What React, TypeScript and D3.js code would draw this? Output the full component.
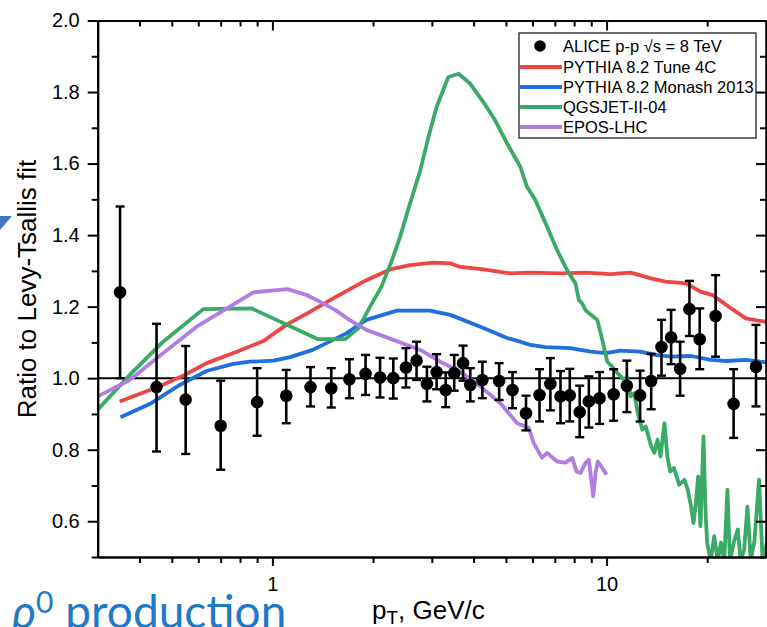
import React, { useEffect, useRef } from 'react';
import * as d3 from 'd3';

// ---------- data ----------
const ALICE_PT = [0.35, 0.45, 0.55, 0.70, 0.90, 1.10, 1.30, 1.50, 1.70, 1.90, 2.10, 2.30, 2.51, 2.70, 2.90, 3.10, 3.30, 3.50, 3.72, 3.91, 4.25, 4.77, 5.23, 5.74, 6.30, 6.79, 7.28, 7.76, 8.31, 8.85, 9.53, 10.5, 11.5, 12.6, 13.6, 14.6, 15.6, 16.6, 17.7, 19.0, 21.2, 24.0, 28.0];
const ALICE_RATIO = [1.24, 0.975, 0.94, 0.867, 0.933, 0.951, 0.975, 0.972, 0.997, 1.012, 1.002, 1.0, 1.030, 1.049, 0.984, 1.017, 0.967, 1.014, 1.042, 0.981, 0.995, 0.992, 0.967, 0.902, 0.953, 0.984, 0.949, 0.952, 0.905, 0.935, 0.944, 0.955, 0.979, 0.952, 0.992, 1.087, 1.114, 1.026, 1.193, 1.109, 1.174, 0.928, 1.032];
const ALICE_HI = [1.48, 1.152, 1.09, 0.993, 1.028, 1.023, 1.031, 1.028, 1.053, 1.065, 1.057, 1.055, 1.084, 1.102, 1.032, 1.067, 1.016, 1.065, 1.091, 1.028, 1.046, 1.042, 1.017, 0.951, 1.025, 1.056, 1.02, 1.026, 0.979, 1.005, 1.017, 1.025, 1.049, 1.021, 1.068, 1.163, 1.191, 1.102, 1.272, 1.195, 1.288, 1.025, 1.149];
const ALICE_LO = [1.0, 0.795, 0.788, 0.744, 0.839, 0.874, 0.921, 0.918, 0.944, 0.953, 0.946, 0.943, 0.974, 0.995, 0.935, 0.969, 0.919, 0.965, 0.993, 0.935, 0.944, 0.939, 0.916, 0.854, 0.879, 0.910, 0.874, 0.879, 0.835, 0.862, 0.872, 0.881, 0.905, 0.879, 0.913, 1.007, 1.039, 0.951, 1.118, 1.025, 1.06, 0.833, 0.921];

const PYTHIA_4C: [number, number][] = [[0.349, 0.935], [0.45, 0.974], [0.547, 1.009], [0.635, 1.042], [0.782, 1.074], [0.94, 1.104], [1.10, 1.149], [1.27, 1.181], [1.52, 1.223], [1.91, 1.274], [2.25, 1.304], [2.58, 1.316], [3.03, 1.323], [3.41, 1.321], [3.65, 1.311], [4.28, 1.304], [5.15, 1.293], [5.91, 1.295], [7.28, 1.293], [8.65, 1.295], [10.3, 1.291], [11.8, 1.295], [13.6, 1.279], [15.0, 1.270], [17.3, 1.265], [19.1, 1.242], [20.8, 1.232], [23.6, 1.195], [26.1, 1.167], [28.4, 1.161], [30.2, 1.158]];
const PYTHIA_MONASH: [number, number][] = [[0.351, 0.891], [0.434, 0.930], [0.528, 0.981], [0.635, 1.020], [0.764, 1.040], [0.857, 1.046], [1.007, 1.049], [1.13, 1.059], [1.32, 1.079], [1.67, 1.126], [1.91, 1.163], [2.36, 1.189], [2.96, 1.189], [3.41, 1.177], [4.19, 1.144], [5.04, 1.112], [5.52, 1.102], [5.91, 1.093], [6.56, 1.087], [7.80, 1.084], [8.96, 1.074], [9.94, 1.070], [11.0, 1.077], [12.6, 1.074], [14.0, 1.065], [15.6, 1.060], [17.9, 1.062], [20.5, 1.051], [22.8, 1.048], [26.1, 1.051], [30.2, 1.044]];
const QGSJET: [number, number][] = [[0.3, 0.912], [0.374, 1.009], [0.471, 1.102], [0.621, 1.193], [0.867, 1.195], [1.37, 1.109], [1.65, 1.109], [1.81, 1.140], [1.96, 1.200], [2.12, 1.256], [2.28, 1.330], [2.41, 1.395], [2.58, 1.488], [2.77, 1.581], [2.93, 1.674], [3.10, 1.758], [3.36, 1.842], [3.61, 1.851], [3.91, 1.823], [4.28, 1.772], [4.64, 1.721], [5.04, 1.656], [5.52, 1.591], [5.78, 1.535], [6.12, 1.498], [6.64, 1.423], [7.11, 1.358], [7.62, 1.302], [8.07, 1.265], [8.26, 1.219], [8.45, 1.209], [8.65, 1.19], [9.38, 1.163], [9.71, 1.107], [10.05, 1.046], [10.4, 1.032], [10.9, 1.009], [11.3, 0.995], [11.5, 1.004], [11.8, 0.949], [12.1, 0.958], [12.4, 0.902], [12.8, 0.856], [13.1, 0.865], [13.6, 0.809], [13.9, 0.791], [14.2, 0.828], [14.5, 0.781], [14.9, 0.874], [15.2, 0.781], [15.5, 0.739], [15.9, 0.749], [16.5, 0.702], [17.1, 0.716], [17.5, 0.688], [17.9, 0.641], [18.2, 0.595], [18.5, 0.651], [18.8, 0.725], [19.1, 0.586], [19.5, 0.837], [19.8, 0.614], [20.0, 0.540], [20.5, 0.49], [21.0, 0.558], [21.5, 0.49], [22.0, 0.54], [22.5, 0.49], [23.0, 0.688], [23.4, 0.49], [24.1, 0.545], [24.7, 0.577], [25.2, 0.49], [25.8, 0.52], [26.4, 0.641], [27.0, 0.49], [27.7, 0.545], [28.6, 0.716], [29.3, 0.49], [30.2, 0.54]];
const EPOS: [number, number][] = [[0.3, 0.949], [0.374, 0.995], [0.471, 1.070], [0.593, 1.144], [0.746, 1.200], [0.877, 1.240], [1.11, 1.249], [1.27, 1.232], [1.36, 1.218], [1.54, 1.191], [1.70, 1.163], [1.91, 1.135], [2.30, 1.107], [2.77, 1.079], [3.18, 1.046], [3.65, 1.018], [4.19, 0.977], [4.81, 0.930], [5.40, 0.874], [5.85, 0.861], [6.05, 0.819], [6.41, 0.777], [6.64, 0.791], [7.11, 0.767], [7.54, 0.764], [7.89, 0.777], [8.13, 0.739], [8.36, 0.735], [8.65, 0.763], [8.85, 0.772], [9.12, 0.670], [9.27, 0.735], [9.42, 0.767], [9.64, 0.753], [10.0, 0.730]];

const SERIES_NAMES = ['PYTHIA 8.2 Tune 4C', 'PYTHIA 8.2 Monash 2013', 'QGSJET-II-04', 'EPOS-LHC'];
const SERIES_DATA = [PYTHIA_4C, PYTHIA_MONASH, QGSJET, EPOS];
const SERIES_COLORS = ['#f04545', '#1f6fe0', '#3aaa68', '#b07ee0'];
const DATA_LABEL = 'ALICE p-p \u221As = 8 TeV';

const X_DOMAIN = [0.3, 30];
const Y_DOMAIN = [0.5, 2.0];
const X_MAJOR_TICKS = [1, 10];
const X_MINOR_TICKS = [0.4, 0.5, 0.6, 0.7, 0.8, 0.9, 2, 3, 4, 5, 6, 7, 8, 9, 20];
const Y_MAJOR_TICKS = [0.6, 0.8, 1.0, 1.2, 1.4, 1.6, 1.8, 2.0];
const Y_MINOR_TICKS = [0.5, 0.7, 0.9, 1.1, 1.3, 1.5, 1.7, 1.9];

const W = 767;
const H = 627;
const PLOT = { left: 97.7, top: 20.5, right: 766, bottom: 557 };
const FONT = '"Liberation Sans", Arial, Helvetica, sans-serif';

export default function App() {
  const ref = useRef<SVGSVGElement>(null);

  useEffect(() => {
    const svg = d3.select(ref.current);
    svg.selectAll('*').remove();

    const x = d3.scaleLog().domain(X_DOMAIN).range([PLOT.left, PLOT.right]);
    const y = d3.scaleLinear().domain(Y_DOMAIN).range([PLOT.bottom, PLOT.top]);

    svg.append('rect').attr('width', W).attr('height', H).attr('fill', '#fff');

    svg.append('defs').append('clipPath').attr('id', 'plotclip')
      .append('rect')
      .attr('x', PLOT.left).attr('y', PLOT.top)
      .attr('width', PLOT.right - PLOT.left).attr('height', PLOT.bottom - PLOT.top);

    // reference line at 1
    svg.append('line')
      .attr('x1', PLOT.left).attr('x2', PLOT.right)
      .attr('y1', y(1)).attr('y2', y(1))
      .attr('stroke', '#000').attr('stroke-width', 2);

    // model curves
    const line = d3.line<[number, number]>().x(d => x(d[0])).y(d => y(d[1]));
    const curves = svg.append('g').attr('clip-path', 'url(#plotclip)');
    SERIES_DATA.forEach((data, i) => {
      curves.append('path')
        .attr('d', line(data) as string)
        .attr('fill', 'none')
        .attr('stroke', SERIES_COLORS[i])
        .attr('stroke-width', 3.8)
        .attr('stroke-linejoin', 'round')
        .attr('stroke-linecap', 'butt');
    });

    // ALICE data points with error bars
    const pts = svg.append('g');
    ALICE_PT.forEach((pt, i) => {
      const cx = x(pt);
      const g = pts.append('g');
      g.append('line').attr('x1', cx).attr('x2', cx)
        .attr('y1', y(ALICE_LO[i])).attr('y2', y(ALICE_HI[i]))
        .attr('stroke', '#000').attr('stroke-width', 2.6);
      [ALICE_LO[i], ALICE_HI[i]].forEach(v => {
        g.append('line').attr('x1', cx - 4.5).attr('x2', cx + 4.5)
          .attr('y1', y(v)).attr('y2', y(v))
          .attr('stroke', '#000').attr('stroke-width', 2.4);
      });
      g.append('circle').attr('cx', cx).attr('cy', y(ALICE_RATIO[i])).attr('r', 6.3).attr('fill', '#000');
    });

    // axes
    const styleAxis = (g: any) => {
      g.attr('font-family', FONT).attr('font-size', 20);
      g.selectAll('path.domain').attr('stroke', '#000').attr('stroke-width', 2);
      g.selectAll('.tick line').attr('stroke', '#000').attr('stroke-width', 2);
      g.selectAll('.tick text').attr('fill', '#000');
    };
    const noLabel = () => '';

    // left
    svg.append('g').attr('transform', `translate(${PLOT.left},0)`)
      .call(d3.axisLeft(y).tickValues(Y_MAJOR_TICKS).tickSize(10).tickPadding(8).tickSizeOuter(0).tickFormat(d3.format('.1f')))
      .call(styleAxis);
    svg.append('g').attr('transform', `translate(${PLOT.left},0)`)
      .call(d3.axisLeft(y).tickValues(Y_MINOR_TICKS).tickSize(6).tickSizeOuter(0).tickFormat(noLabel))
      .call(styleAxis);
    // right (ticks inward)
    svg.append('g').attr('transform', `translate(${PLOT.right},0)`)
      .call(d3.axisLeft(y).tickValues(Y_MAJOR_TICKS).tickSize(10).tickSizeOuter(0).tickFormat(noLabel))
      .call(styleAxis);
    svg.append('g').attr('transform', `translate(${PLOT.right},0)`)
      .call(d3.axisLeft(y).tickValues(Y_MINOR_TICKS).tickSize(6).tickSizeOuter(0).tickFormat(noLabel))
      .call(styleAxis);
    // bottom
    svg.append('g').attr('transform', `translate(0,${PLOT.bottom})`)
      .call(d3.axisBottom(x).tickValues(X_MAJOR_TICKS).tickSize(9).tickPadding(11).tickSizeOuter(0).tickFormat(d3.format('d')))
      .call(styleAxis);
    svg.append('g').attr('transform', `translate(0,${PLOT.bottom})`)
      .call(d3.axisBottom(x).tickValues(X_MINOR_TICKS).tickSize(6).tickSizeOuter(0).tickFormat(noLabel))
      .call(styleAxis);
    // top (ticks inward)
    svg.append('g').attr('transform', `translate(0,${PLOT.top})`)
      .call(d3.axisBottom(x).tickValues(X_MAJOR_TICKS).tickSize(10).tickSizeOuter(0).tickFormat(noLabel))
      .call(styleAxis);
    svg.append('g').attr('transform', `translate(0,${PLOT.top})`)
      .call(d3.axisBottom(x).tickValues(X_MINOR_TICKS).tickSize(6).tickSizeOuter(0).tickFormat(noLabel))
      .call(styleAxis);

    // axis titles
    svg.append('text')
      .attr('transform', `translate(36,289) rotate(-90)`)
      .attr('text-anchor', 'middle')
      .attr('font-family', FONT).attr('font-size', 26).attr('fill', '#000')
      .text('Ratio to Levy-Tsallis fit');

    const xt = svg.append('text')
      .attr('x', 372).attr('y', 619)
      .attr('font-family', FONT).attr('font-size', 26).attr('fill', '#000');
    xt.append('tspan').text('p');
    xt.append('tspan').attr('font-size', 19).attr('dy', 5).text('T');
    xt.append('tspan').attr('dy', -5).text(', GeV/c');

    // legend
    const lg = svg.append('g').attr('font-family', FONT).attr('font-size', 16.5);
    lg.append('rect').attr('x', 519).attr('y', 33).attr('width', 237).attr('height', 105)
      .attr('fill', '#fff').attr('stroke', '#222').attr('stroke-width', 1.3);
    lg.append('circle').attr('cx', 540).attr('cy', 46).attr('r', 5.8).attr('fill', '#000');
    lg.append('text').attr('x', 563).attr('y', 52).attr('fill', '#000').text(DATA_LABEL);
    SERIES_NAMES.forEach((name, i) => {
      const cy = 67 + i * 20;
      lg.append('line').attr('x1', 520).attr('x2', 562).attr('y1', cy).attr('y2', cy)
        .attr('stroke', SERIES_COLORS[i]).attr('stroke-width', 4);
      lg.append('text').attr('x', 563).attr('y', cy + 6).attr('fill', '#000').text(name);
    });

    // slide decorations (partially visible)
    svg.append('path').attr('d', 'M0,216 L12,216 L0,230 Z').attr('fill', '#4472c4');
    const st = svg.append('text').attr('x', 12).attr('y', 628)
      .attr('font-family', 'Lato, "Open Sans", sans-serif').attr('font-size', 46).attr('fill', '#1f78c8');
    st.append('tspan').attr('font-style', 'italic').text('\u03C1');
    st.append('tspan').attr('font-size', 30).attr('dy', -15).text('0');
    st.append('tspan').attr('dy', 15).text(' production');
  }, []);

  return (
    <div style={{ position: 'absolute', left: 0, top: 0 }}>
      <svg ref={ref} width={W} height={H} style={{ display: 'block' }} />
    </div>
  );
}
